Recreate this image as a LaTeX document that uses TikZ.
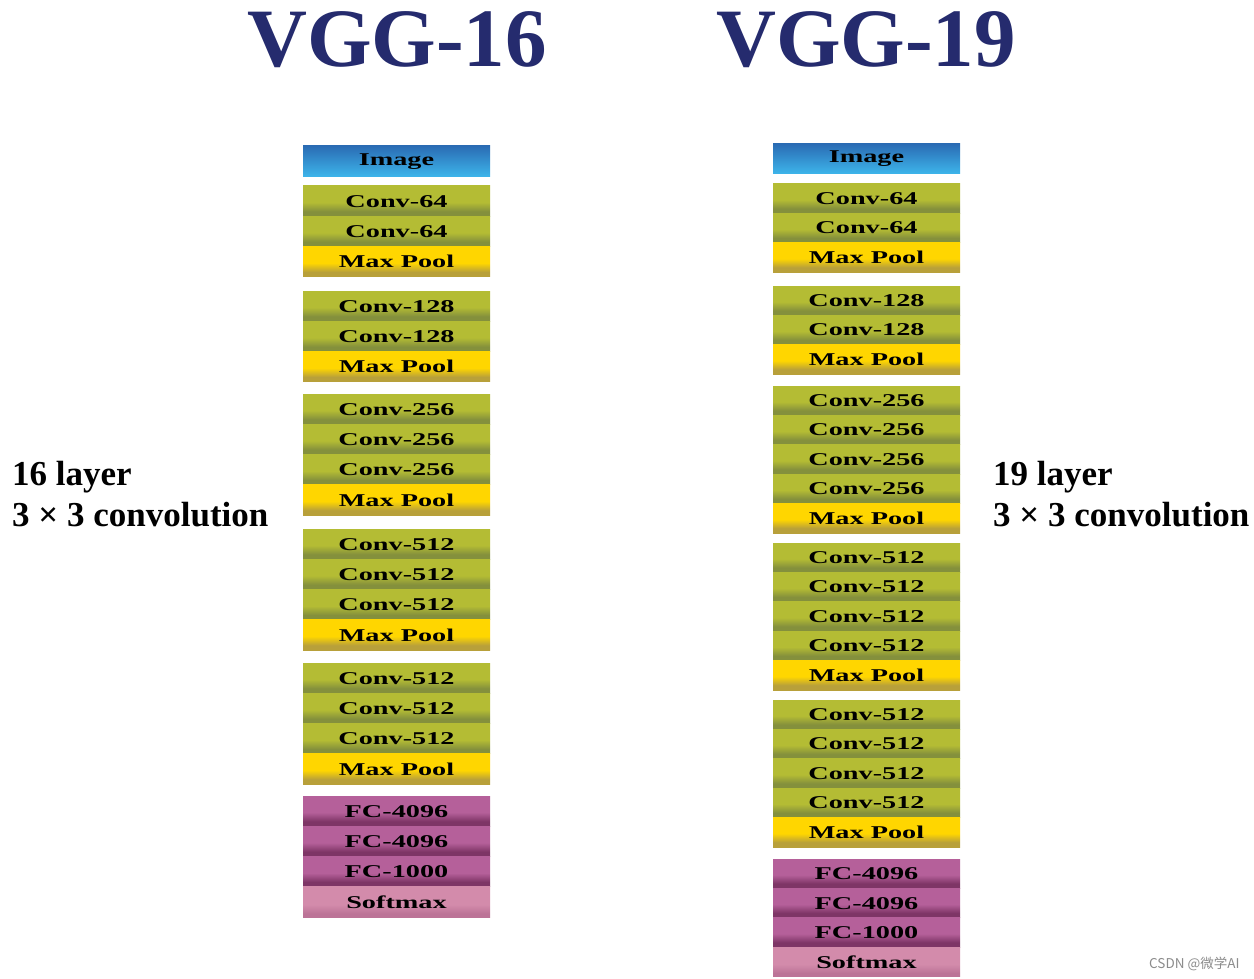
\documentclass[tikz,border=0pt]{standalone}
\usepackage{fontspec}
\setmainfont{Liberation Serif}
\newfontfamily\cjkfont{Noto Sans CJK SC}
\definecolor{navy}{HTML}{252B6E}
\definecolor{imgtop}{HTML}{2A6CB4}
\definecolor{imgbot}{HTML}{3DB4EA}
\definecolor{convmain}{HTML}{B4BC34}
\definecolor{convdark}{HTML}{84903C}
\definecolor{poolmain}{HTML}{FFD600}
\definecolor{pooldark}{HTML}{B8A03A}
\definecolor{fcmain}{HTML}{B5609A}
\definecolor{fcdark}{HTML}{7E3566}
\definecolor{smmain}{HTML}{D38BAB}
\definecolor{smdark}{HTML}{BC7397}
\pgfdeclareverticalshading{shImg}{100bp}{color(0bp)=(imgbot); color(25bp)=(imgbot); color(75bp)=(imgtop); color(100bp)=(imgtop)}
\pgfdeclareverticalshading{shConv}{100bp}{color(0bp)=(convdark); color(25bp)=(convdark); color(33bp)=(convdark); color(48bp)=(convmain); color(75bp)=(convmain); color(100bp)=(convmain)}
\pgfdeclareverticalshading{shPool}{100bp}{color(0bp)=(pooldark); color(25bp)=(pooldark); color(33bp)=(pooldark); color(48bp)=(poolmain); color(75bp)=(poolmain); color(100bp)=(poolmain)}
\pgfdeclareverticalshading{shFc}{100bp}{color(0bp)=(fcdark); color(25bp)=(fcdark); color(33bp)=(fcdark); color(48bp)=(fcmain); color(75bp)=(fcmain); color(100bp)=(fcmain)}
\pgfdeclareverticalshading{shSm}{100bp}{color(0bp)=(smdark); color(25bp)=(smdark); color(31bp)=(smdark); color(46bp)=(smmain); color(75bp)=(smmain); color(100bp)=(smmain)}
\newcommand{\celltext}[1]{\scalebox{1.57}[1]{\fontsize{18}{18}\selectfont\bfseries #1}}
\begin{document}
\begin{tikzpicture}[x=1pt,y=-1pt,
  cellbase/.style={minimum width=187pt, inner sep=0pt, outer sep=0pt, anchor=north west, text=black},
  cellI/.style={cellbase, shading=shImg},
  cellC/.style={cellbase, shading=shConv},
  cellM/.style={cellbase, shading=shPool},
  cellF/.style={cellbase, shading=shFc},
  cellS/.style={cellbase, shading=shSm},
  title/.style={anchor=base west, inner sep=0pt, text=navy, font=\fontsize{83}{83}\selectfont\bfseries},
  side/.style={anchor=base west, inner sep=0pt, text=black, font=\fontsize{35}{35}\selectfont\bfseries}
]
\useasboundingbox[fill=white] (0,0) rectangle (1254,979);

\node[title] (t16) at (247,67) {VGG-16};
\node[title] (t19) at (716,67) {VGG-19};

\node[side] (l16a) at (12,485) {16 layer};
\node[side] (l16b) at (12,526) {3 × 3 convolution};
\node[side] (l19a) at (993,485) {19 layer};
\node[side] (l19b) at (993,526) {3 × 3 convolution};

\foreach \yt/\ty/\tx [count=\i] in {
  146/I/Image,
  186/C/Conv-64, 216.3/C/Conv-64, 246.6/M/Max Pool,
  291/C/Conv-128, 321.3/C/Conv-128, 351.6/M/Max Pool,
  394/C/Conv-256, 424.3/C/Conv-256, 454.6/C/Conv-256, 484.9/M/Max Pool,
  529/C/Conv-512, 559.3/C/Conv-512, 589.6/C/Conv-512, 619.9/M/Max Pool,
  663/C/Conv-512, 693.3/C/Conv-512, 723.6/C/Conv-512, 753.9/M/Max Pool,
  796/F/FC-4096, 826.3/F/FC-4096, 856.6/F/FC-1000, 886.9/S/Softmax}
  \node[cell\ty, minimum height=30.3pt] (a\i) at (303,\yt) {\celltext{\tx}};

\foreach \yt/\ty/\tx [count=\i] in {
  144/I/Image,
  184/C/Conv-64, 213.4/C/Conv-64, 242.8/M/Max Pool,
  286/C/Conv-128, 315.4/C/Conv-128, 344.8/M/Max Pool,
  386/C/Conv-256, 415.4/C/Conv-256, 444.8/C/Conv-256, 474.2/C/Conv-256, 503.6/M/Max Pool,
  543/C/Conv-512, 572.4/C/Conv-512, 601.8/C/Conv-512, 631.2/C/Conv-512, 660.6/M/Max Pool,
  700/C/Conv-512, 729.4/C/Conv-512, 758.8/C/Conv-512, 788.2/C/Conv-512, 817.6/M/Max Pool,
  859/F/FC-4096, 888.4/F/FC-4096, 917.8/F/FC-1000, 947.2/S/Softmax}
  \node[cell\ty, minimum height=29.4pt] (b\i) at (773,\yt) {\celltext{\tx}};

\node[anchor=base west, inner sep=0pt, text=black!45, font=\cjkfont\fontsize{13.5}{13.5}\selectfont] (wm) at (1149,968) {CSDN @微学AI};
\end{tikzpicture}
\end{document}
